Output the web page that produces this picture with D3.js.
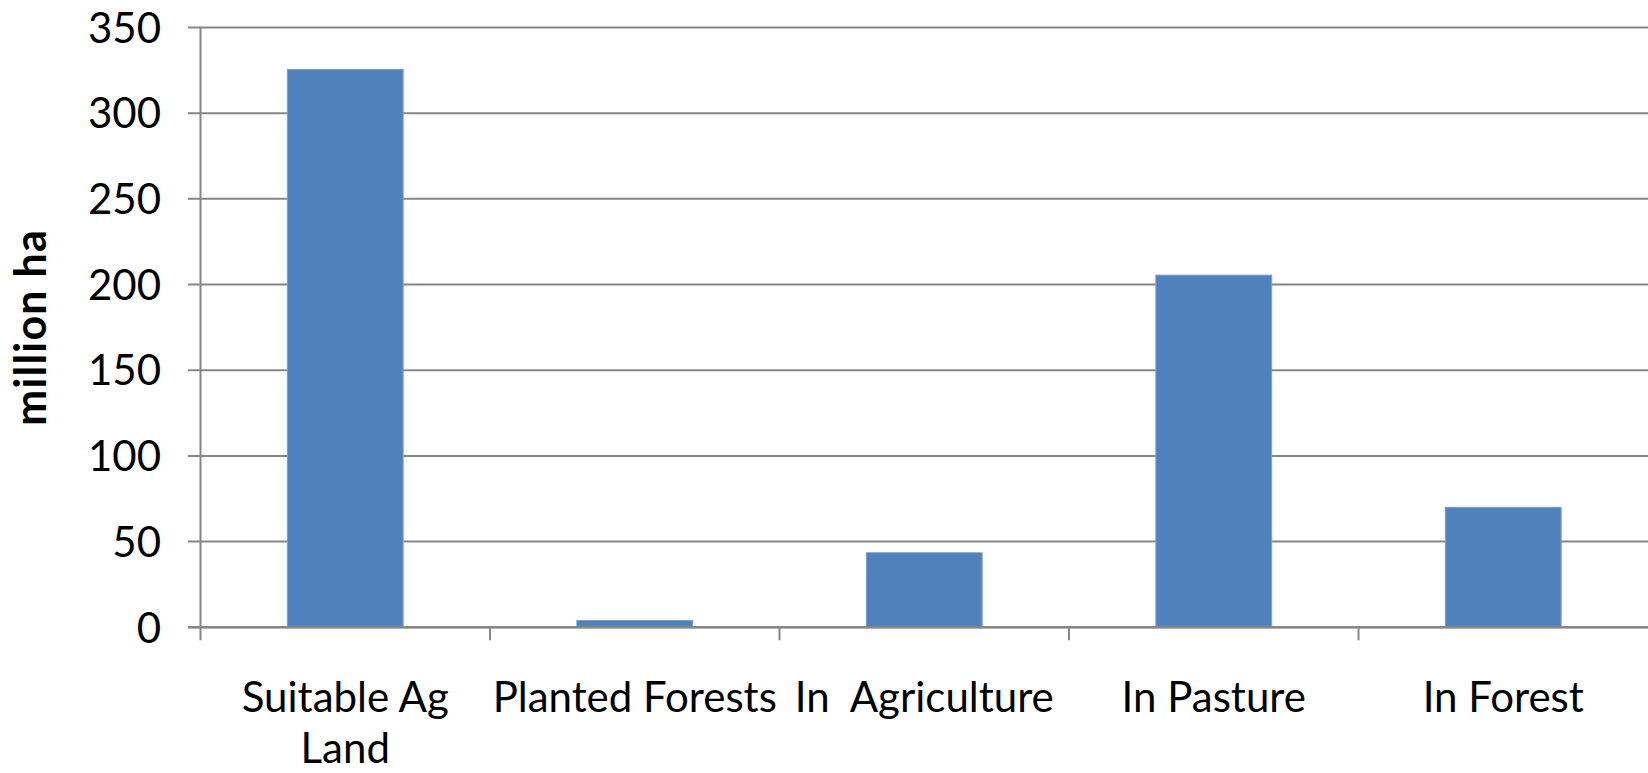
<!DOCTYPE html>
<html>
<head>
<meta charset="utf-8">
<script src="https://cdn.jsdelivr.net/npm/d3@7/dist/d3.min.js"></script>
<style>
  html, body { margin: 0; padding: 0; background: #fff; }
  svg { display: block; }
  text { font-family: Lato, "Liberation Sans", sans-serif; fill: #000; }
</style>
</head>
<body>
<svg id="chart" width="1648" height="773"></svg>
<script>
// Land area by category (million ha)
const categories = ["Suitable Ag Land", "Planted Forests", "In  Agriculture", "In Pasture", "In Forest"];
const categoryLines = [["Suitable Ag", "Land"], ["Planted Forests"], ["In  Agriculture"], ["In Pasture"], ["In Forest"]];
const values = [325.5, 4, 43.5, 205.5, 70];
const yTicks = [0, 50, 100, 150, 200, 250, 300, 350];
const yTitle = "million ha";

const W = 1648, H = 773;
const margin = { top: 27.5, right: 0, bottom: 145.7, left: 200.5 };
const innerW = W - margin.left - margin.right;
const innerH = H - margin.top - margin.bottom;
const gridColor = "#868686";

const svg = d3.select("#chart");
const g = svg.append("g").attr("transform", `translate(${margin.left},${margin.top})`);

const x = d3.scaleBand().domain(categories).range([0, innerW]).paddingInner(0.6).paddingOuter(0.3);
const y = d3.scaleLinear().domain([0, 350]).range([innerH, 0]);

// Horizontal gridlines with outward tick marks on the left
g.append("g")
  .selectAll("line")
  .data(yTicks)
  .join("line")
  .attr("x1", -12.5)
  .attr("x2", innerW)
  .attr("y1", d => y(d))
  .attr("y2", d => y(d))
  .attr("stroke", gridColor)
  .attr("stroke-width", 2);

// Y axis labels
const yAxis = d3.axisLeft(y).tickValues(yTicks).tickSize(0).tickPadding(39.5);
const ya = g.append("g").call(yAxis);
ya.select(".domain").remove();
ya.selectAll("text")
  .style("font-family", "Lato, sans-serif")
  .style("font-size", "42px")
  .attr("dy", "0.35em");

// Bars
g.append("g")
  .selectAll("rect")
  .data(values)
  .join("rect")
  .attr("x", (d, i) => x(categories[i]))
  .attr("width", x.bandwidth())
  .attr("y", d => y(d))
  .attr("height", d => y(0) - y(d))
  .attr("fill", "#4F81BD")
  .attr("stroke", "#7BA0CF")
  .attr("stroke-width", 1);

// Vertical axis line
g.append("line")
  .attr("x1", 0).attr("x2", 0)
  .attr("y1", 0).attr("y2", innerH + 13)
  .attr("stroke", gridColor)
  .attr("stroke-width", 2);

// Category boundary ticks below the baseline
const boundaries = categories.map((c, i) => i * x.step()).slice(1);
g.append("g")
  .selectAll("line")
  .data(boundaries)
  .join("line")
  .attr("x1", d => d).attr("x2", d => d)
  .attr("y1", innerH).attr("y2", innerH + 13)
  .attr("stroke", gridColor)
  .attr("stroke-width", 2);

// Baseline
g.append("line")
  .attr("x1", -12.5).attr("x2", innerW)
  .attr("y1", innerH).attr("y2", innerH)
  .attr("stroke", gridColor)
  .attr("stroke-width", 2.5);

// Category labels
const xl = g.append("g")
  .selectAll("text")
  .data(categories)
  .join("text")
  .attr("x", d => x(d) + x.bandwidth() / 2)
  .attr("y", innerH + 84.5)
  .attr("text-anchor", "middle")
  .style("font-size", "42px")
  .style("white-space", "pre");
xl.each(function(d, i) {
  d3.select(this).selectAll("tspan")
    .data(categoryLines[i])
    .join("tspan")
    .attr("x", x(d) + x.bandwidth() / 2)
    .attr("dy", (t, j) => j === 0 ? 0 : 51)
    .text(t => t);
});

// Y axis title
svg.append("text")
  .attr("transform", `translate(46, ${margin.top + innerH / 2}) rotate(-90)`)
  .attr("text-anchor", "middle")
  .style("font-size", "43px")
  .style("font-weight", "bold")
  .style("letter-spacing", "1.2px")
  .text(yTitle);
</script>
</body>
</html>
